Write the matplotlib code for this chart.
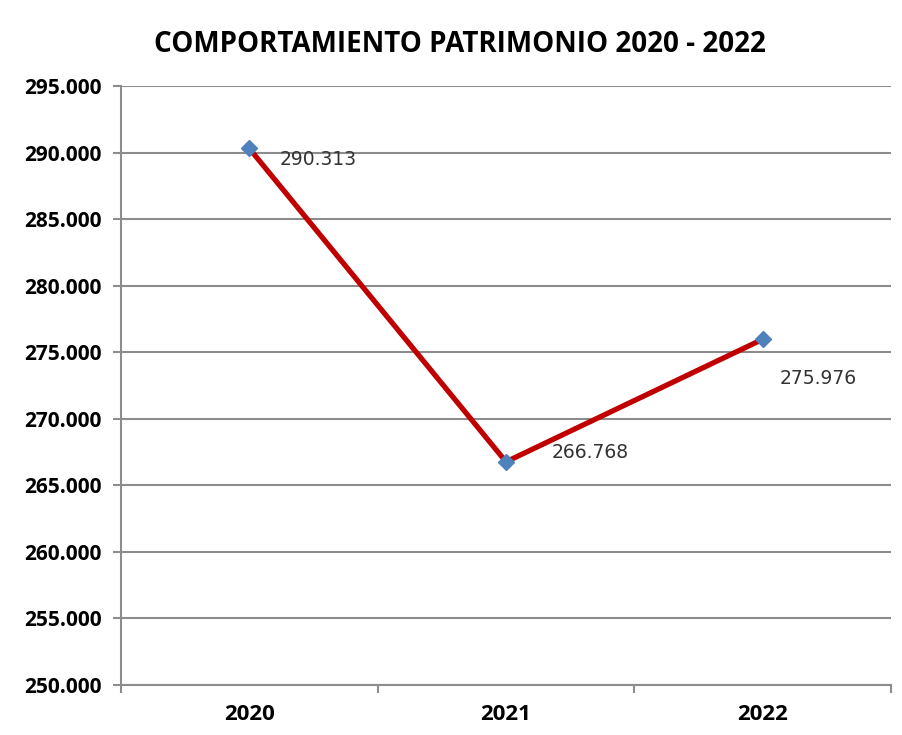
import numpy as np
import matplotlib.pyplot as plt

years = ['2020', '2021', '2022']
patrimonio = [290313, 266768, 275976]
labels = ['290.313', '266.768', '275.976']
label_offsets = [(22, -8), (33, 7), (12, -28)]  # points

fig = plt.figure(figsize=(9.02, 7.35), dpi=100)
ax = fig.add_axes([0.134, 0.068, 0.854, 0.815])

x = np.arange(len(years))
ax.plot(x, patrimonio, color='#C00000', linewidth=3.8, zorder=3)
ax.plot(x, patrimonio, linestyle='none', marker='D', markersize=8.5,
        color='#4F81BD', zorder=4)

for xi, yi, lab, off in zip(x, patrimonio, labels, label_offsets):
    ax.annotate(lab, (xi, yi), xytext=off, textcoords='offset points',
                ha='left', va='center', fontsize=13.5, color='#333333',
                family='DejaVu Sans')

ax.set_xlim(-0.5, 2.5)
ax.set_ylim(250000, 295000)
yt = np.arange(250000, 295001, 5000)
ax.set_yticks(yt)
ax.set_yticklabels([f'{v // 1000}.000' for v in yt], fontsize=15,
                   fontweight='bold', family='Open Sans')
ax.yaxis.grid(True, color='#8c8c8c', linewidth=1.5)
ax.set_axisbelow(True)

ax.set_xticks(x)
ax.set_xticklabels(years, fontsize=16, fontweight='bold', family='Open Sans')
ax.tick_params(axis='x', length=0, pad=14)
ax.set_xticks([-0.5, 0.5, 1.5, 2.5], minor=True)
ax.tick_params(axis='x', which='minor', length=6, color='#8c8c8c', width=1.5)
ax.tick_params(axis='y', length=6, color='#8c8c8c', width=1.5, pad=8)

for s in ['top', 'right']:
    ax.spines[s].set_visible(False)
for s in ['left', 'bottom']:
    ax.spines[s].set_color('#8c8c8c')
    ax.spines[s].set_linewidth(1.5)

fig.text(0.51, 0.94, 'COMPORTAMIENTO PATRIMONIO 2020 - 2022', ha='center',
         va='center', fontsize=20, fontweight='bold', family='Open Sans')

fig.savefig('out.png', dpi=100)
